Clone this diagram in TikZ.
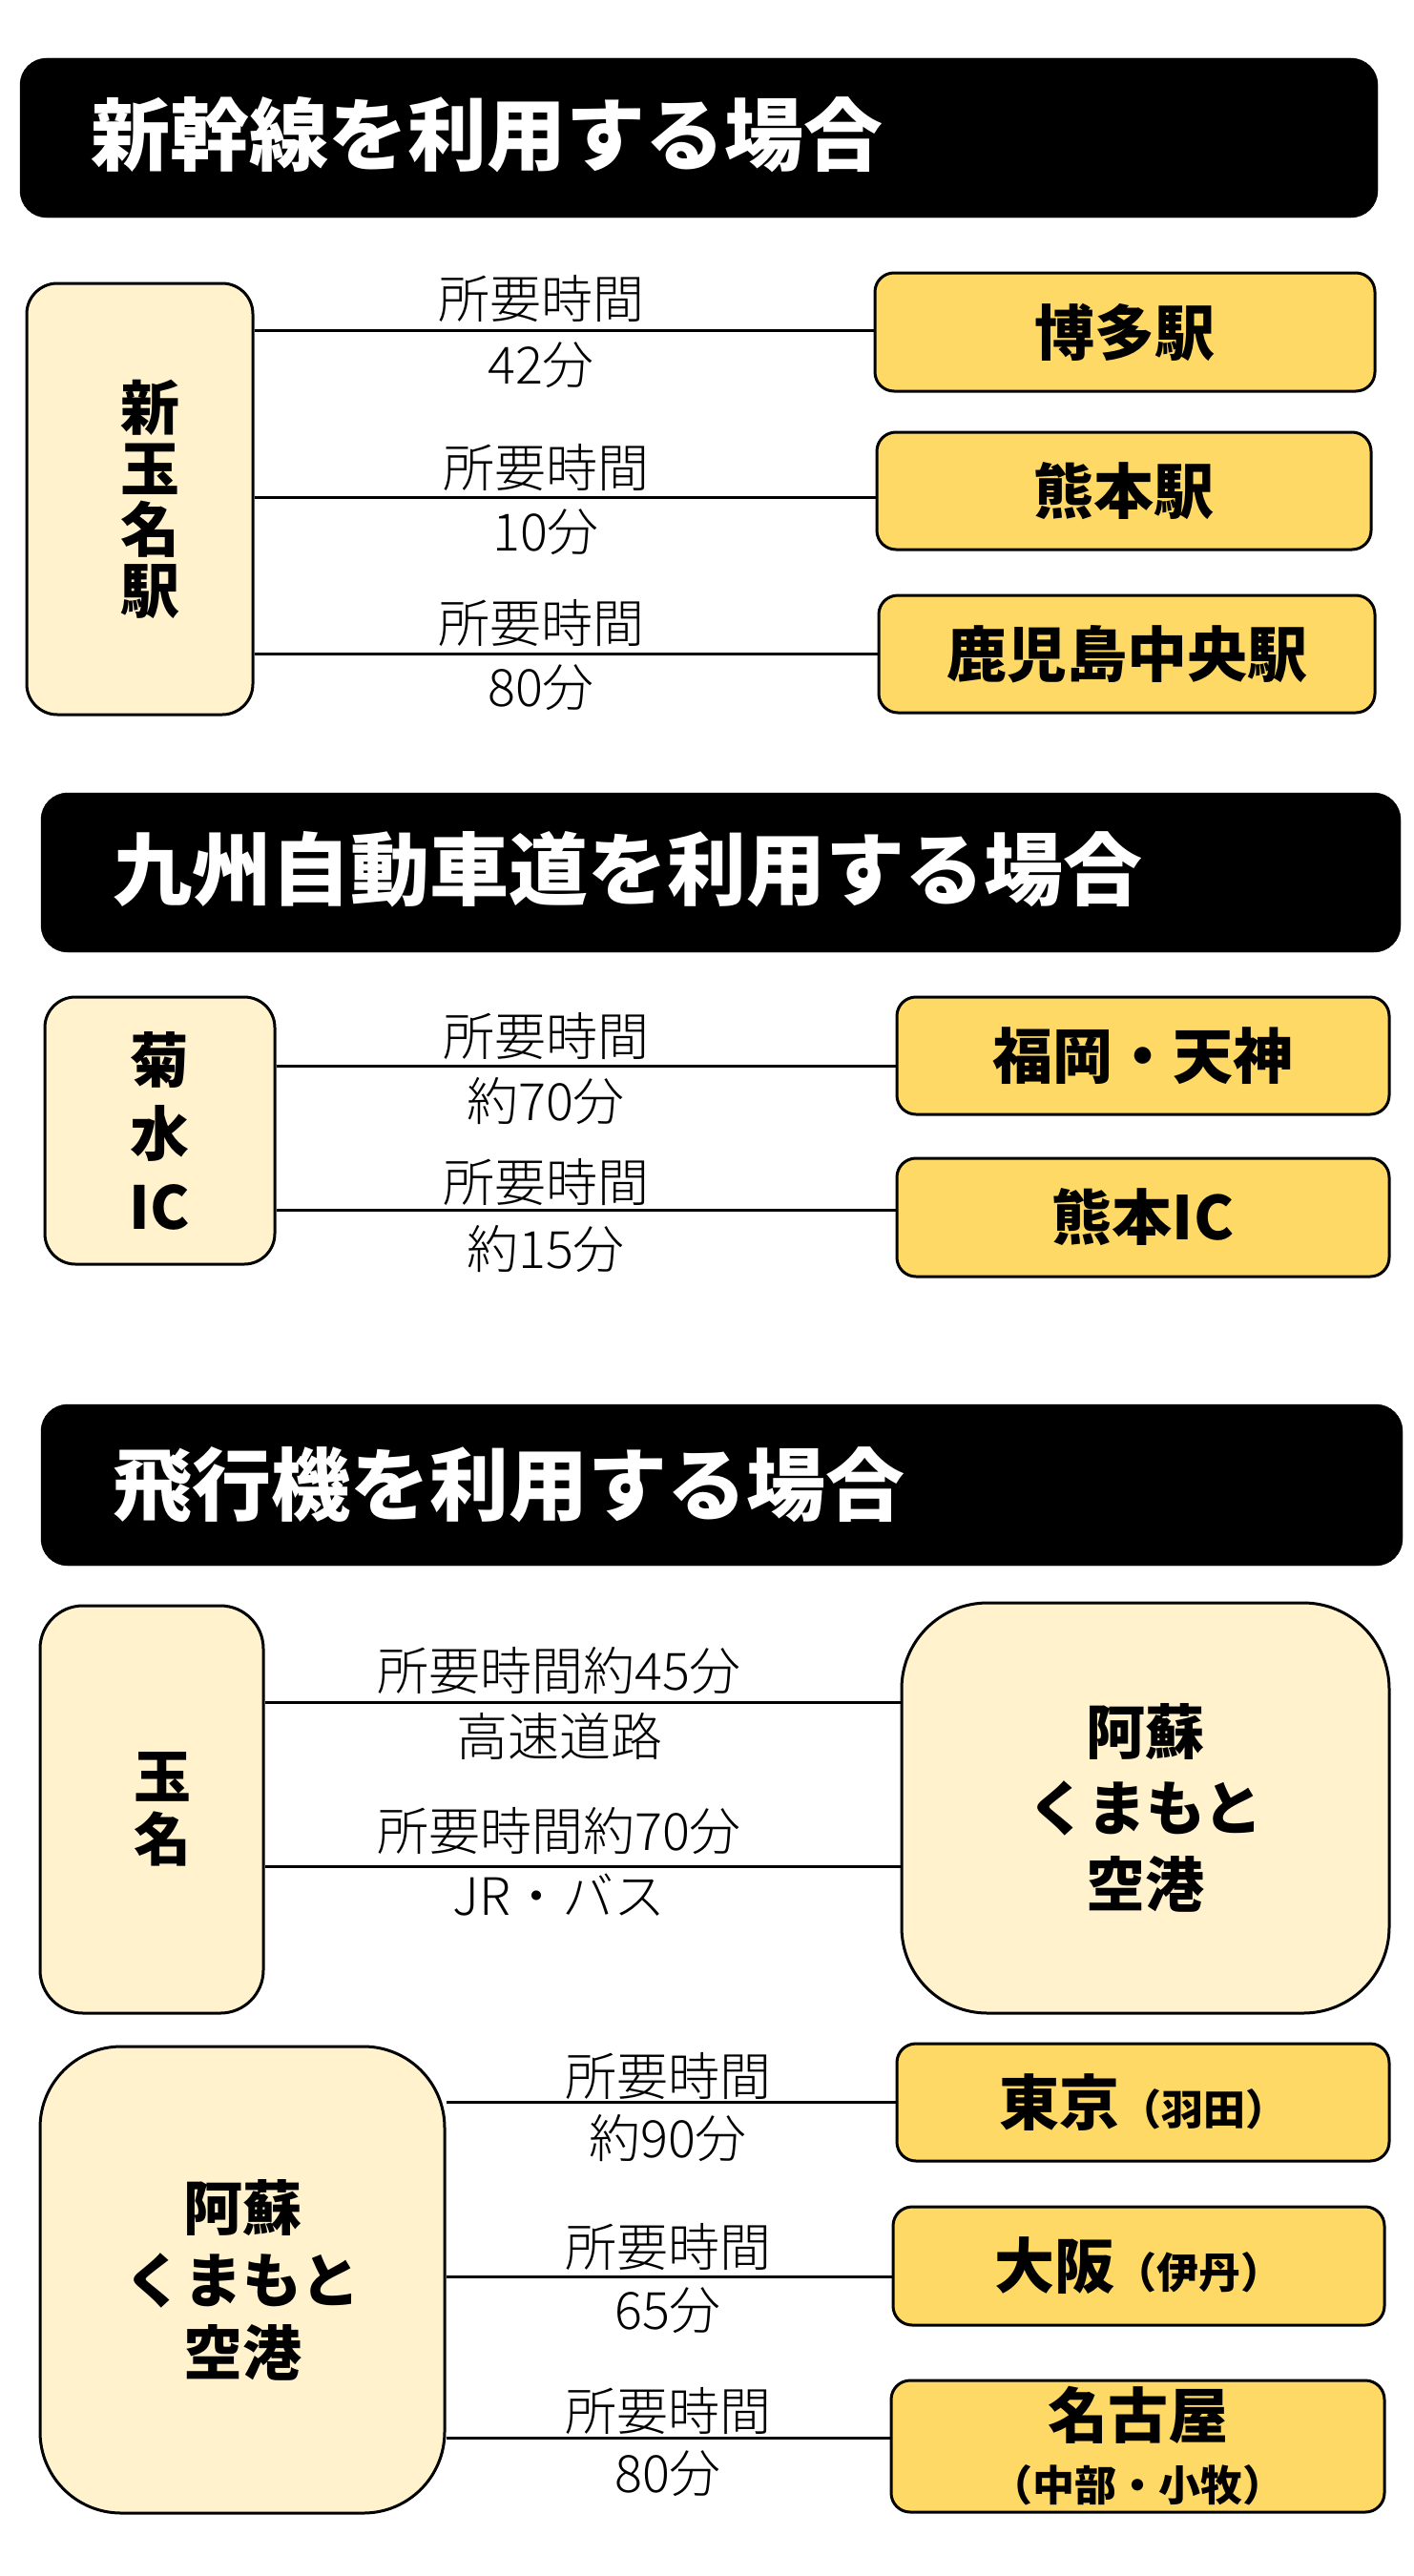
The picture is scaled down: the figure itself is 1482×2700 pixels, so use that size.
\documentclass[tikz,border=0pt]{standalone}
\usepackage{fontspec}
\newfontfamily\jp{Noto Sans CJK JP}
\newfontfamily\jpl{Noto Sans CJK JP Light}
\definecolor{cream}{HTML}{FFF2CC}
\definecolor{gold}{HTML}{FFD966}
\tikzset{
  titlebox/.style={fill=black, draw=black, rounded corners=28pt, inner sep=0pt},
  titletext/.style={anchor=west, text=white, inner sep=0pt, font=\jp\bfseries\fontsize{83}{90}\selectfont},
  srcbox/.style={draw=black, line width=3pt, fill=cream, rounded corners=32pt, inner sep=0pt, align=center, font=\jp\bfseries\fontsize{62}{64}\selectfont},
  dstbox/.style={draw=black, line width=3pt, fill=gold, rounded corners=20pt, inner sep=0pt, align=center, font=\jp\bfseries\fontsize{63}{68}\selectfont},
  lbl/.style={inner sep=0pt, font=\jpl\fontsize{54}{60}\selectfont},
  conn/.style={line width=3pt, draw=black}
}
\newcommand{\smallp}[1]{{\fontsize{44}{44}\selectfont #1}}
\newcommand{\rs}{\hspace*{22pt}}
\begin{document}
\begin{tikzpicture}[x=1pt,y=-1pt]
\fill[white] (0,0) rectangle (1482,2700);
\useasboundingbox (0,0) rectangle (1482,2700);

% ---------- Section 1 ----------
\node[titlebox, minimum width=1423pt, minimum height=167pt] (t1) at (732.5,144.5) {};
\node[titletext] (t1text) at (95,141) {新幹線を利用する場合};

\node[srcbox, minimum width=237pt, minimum height=452pt] (L1) at (146.5,523) {\rs{}新\\\rs{}玉\\\rs{}名\\\rs{}駅};
\node[dstbox, minimum width=524pt, minimum height=124pt] (R1a) at (1179,348) {博多駅};
\node[dstbox, minimum width=518pt, minimum height=123pt] (R1b) at (1178,514.5) {熊本駅};
\node[dstbox, minimum width=520pt, minimum height=123pt] (R1c) at (1181,685.5) {鹿児島中央駅};

\draw[conn] (L1.east |- 0,346) -- (R1a.west |- 0,346);
\draw[conn] (L1.east |- 0,521) -- (R1b.west |- 0,521);
\draw[conn] (L1.east |- 0,685) -- (R1c.west |- 0,685);

\node[lbl] (l1a) at (567,313) {所要時間};
\node[lbl] (l1b) at (567,383) {42分};
\node[lbl] (l1c) at (572,490) {所要時間};
\node[lbl] (l1d) at (572,558) {10分};
\node[lbl] (l1e) at (567,653) {所要時間};
\node[lbl] (l1f) at (567,721) {80分};

% ---------- Section 2 ----------
\node[titlebox, minimum width=1425pt, minimum height=167pt] (t2) at (755.5,914.5) {};
\node[titletext] (t2text) at (118,911) {九州自動車道を利用する場合};

\node[srcbox, font=\jp\bfseries\fontsize{62}{77}\selectfont, minimum width=241pt, minimum height=280pt] (L2) at (167.5,1185) {菊\\水\\IC};
\node[dstbox, minimum width=516pt, minimum height=123pt] (R2a) at (1198,1106.5) {福岡・天神};
\node[dstbox, minimum width=516pt, minimum height=124pt] (R2b) at (1198,1276) {熊本IC};

\draw[conn] (L2.east |- 0,1117) -- (R2a.west |- 0,1117);
\draw[conn] (L2.east |- 0,1268) -- (R2b.west |- 0,1268);

\node[lbl] (l2a) at (572,1086) {所要時間};
\node[lbl] (l2b) at (572,1154) {約70分};
\node[lbl] (l2c) at (572,1239) {所要時間};
\node[lbl] (l2d) at (572,1309) {約15分};

% ---------- Section 3 ----------
\node[titlebox, minimum width=1427pt, minimum height=169pt] (t3) at (756.5,1556.5) {};
\node[titletext] (t3text) at (118,1557) {飛行機を利用する場合};

\node[srcbox, font=\jp\bfseries\fontsize{60}{66}\selectfont, rounded corners=45pt, minimum width=234pt, minimum height=427pt] (L3) at (159,1896.5) {\rs{}玉\\\rs{}名};
\node[srcbox, font=\jp\bfseries\fontsize{62}{80}\selectfont, rounded corners=90pt, minimum width=511pt, minimum height=430pt] (R3) at (1200.5,1895) {阿蘇\\くまもと\\空港};

\draw[conn] (L3.east |- 0,1784) -- (R3.west |- 0,1784);
\draw[conn] (L3.east |- 0,1956) -- (R3.west |- 0,1956);

\node[lbl] (l3a) at (586,1751) {所要時間約45分};
\node[lbl] (l3b) at (586,1820) {高速道路};
\node[lbl] (l3c) at (586,1919) {所要時間約70分};
\node[lbl] (l3d) at (586,1986) {JR・バス};

\node[srcbox, font=\jp\bfseries\fontsize{62}{76}\selectfont, rounded corners=85pt, minimum width=424pt, minimum height=489pt] (L4) at (254,2389.5) {阿蘇\\くまもと\\空港};
\node[dstbox, minimum width=516pt, minimum height=123pt] (R4a) at (1198,2203.5) {東京\smallp{（羽田）}};
\node[dstbox, minimum width=515pt, minimum height=124pt] (R4b) at (1193.5,2375) {大阪\smallp{（伊丹）}};
\node[dstbox, minimum width=517pt, minimum height=138pt] (R4c) at (1192.5,2564) {名古屋\\[-2pt]\smallp{（中部・小牧）}};

\draw[conn] (L4.east |- 0,2203) -- (R4a.west |- 0,2203);
\draw[conn] (L4.east |- 0,2386) -- (R4b.west |- 0,2386);
\draw[conn] (L4.east |- 0,2555) -- (R4c.west |- 0,2555);

\node[lbl] (l4a) at (700,2176) {所要時間};
\node[lbl] (l4b) at (700,2241) {約90分};
\node[lbl] (l4c) at (700,2355) {所要時間};
\node[lbl] (l4d) at (700,2422) {65分};
\node[lbl] (l4e) at (700,2527) {所要時間};
\node[lbl] (l4f) at (700,2593) {80分};
\end{tikzpicture}
\end{document}
